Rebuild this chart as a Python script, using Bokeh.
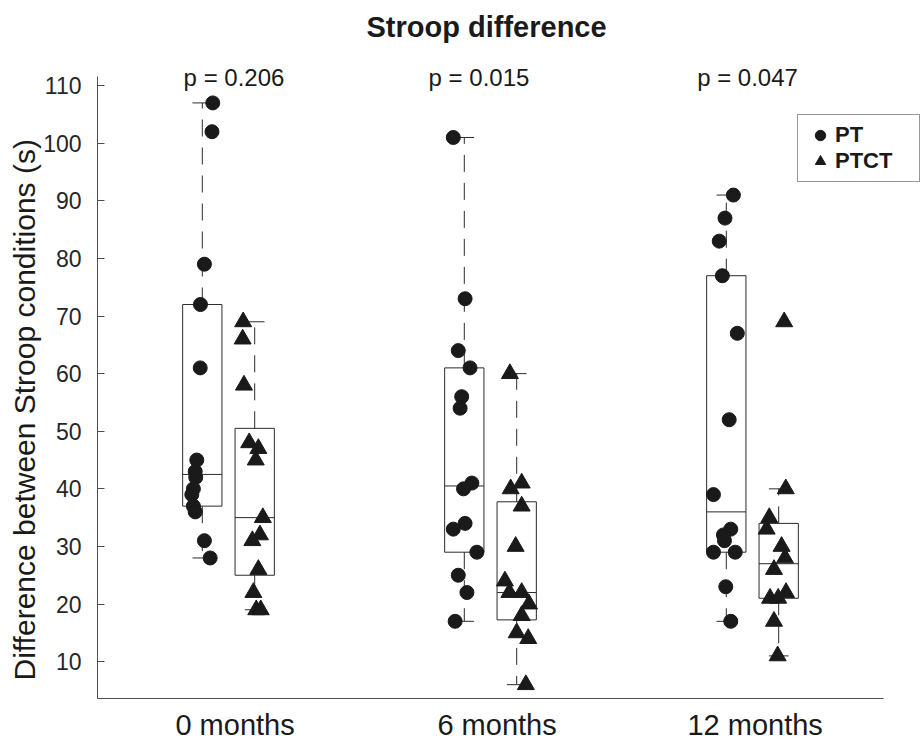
import numpy as np
from bokeh.plotting import figure
from bokeh.models import Range1d, FixedTicker, Legend, LegendItem, ColumnDataSource, Title
from bokeh.core.properties import value
from bokeh.embed import file_html
from bokeh.resources import INLINE

# ---------------- data ----------------
title_text = "Stroop difference"
y_label = "Difference between Stroop conditions (s)"
groups = ["0 months", "6 months", "12 months"]
group_label_pos = [1.125, 2.125, 3.11]
pt_pos = [1, 2, 3]
ptct_pos = [1.2, 2.2, 3.2]
p_texts = ["p = 0.206", "p = 0.015", "p = 0.047"]
p_text_pos = [1.121, 2.056, 3.081]
series_names = ["PT", "PTCT"]

pt_0 = [107, 102, 79, 72, 61, 45, 43, 42, 40, 39, 37, 36, 31, 28]
pt_0_jit = [0.040, 0.037, 0.008, -0.007, -0.008, -0.021, -0.027, -0.025, -0.034, -0.040, -0.034, -0.027, 0.008, 0.030]
ptct_0 = [69, 66, 58, 48, 47, 45, 35, 32, 31, 26, 22, 19, 19]
ptct_0_jit = [-0.044, -0.046, -0.041, -0.021, 0.014, 0.004, 0.031, 0.020, -0.009, 0.014, -0.005, 0.006, 0.023]

pt_6 = [101, 73, 64, 61, 56, 54, 41, 40, 34, 33, 29, 25, 22, 17]
pt_6_jit = [-0.042, 0.003, -0.023, 0.022, -0.010, -0.016, 0.029, -0.003, 0.003, -0.042, 0.048, -0.023, 0.010, -0.035]
ptct_6 = [60, 41, 40, 37, 30, 24, 22, 22, 20, 18, 15, 14, 6]
ptct_6_jit = [-0.026, 0.019, -0.023, 0.019, -0.004, -0.045, -0.028, 0.019, 0.047, 0.019, 0.0, 0.044, 0.035]

pt_12 = [91, 87, 83, 77, 67, 52, 39, 33, 32, 31, 29, 29, 23, 17]
pt_12_jit = [0.027, -0.005, -0.027, -0.015, 0.042, 0.011, -0.049, 0.017, -0.011, -0.007, -0.049, 0.034, -0.002, 0.017]
ptct_12 = [69, 40, 35, 33, 30, 28, 26, 22, 21, 21, 17, 11]
ptct_12_jit = [0.021, 0.027, -0.036, -0.046, 0.011, 0.024, -0.018, 0.028, -0.033, -0.002, -0.018, -0.004]

y_ticks = [10, 20, 30, 40, 50, 60, 70, 80, 90, 100, 110]
x_axis_bounds = (0.6, 3.6)
y_axis_bounds = (3.6, 111.5)
p_label_y = 111.4
title_x = 2.085
title_y = 120.2

pt_sets = [(pt_0, pt_0_jit), (pt_6, pt_6_jit), (pt_12, pt_12_jit)]
ptct_sets = [(ptct_0, ptct_0_jit), (ptct_6, ptct_6_jit), (ptct_12, ptct_12_jit)]

BOX_W = 0.15
CAP_W = 0.075
INK = "#1a1a1a"
LINE = "#2b2b2b"
FONT = "Liberation Sans"


def mquant(v, p):
    s = sorted(v)
    n = len(s)
    pos = n * p + 0.5
    if pos <= 1:
        return s[0]
    if pos >= n:
        return s[-1]
    lo = int(np.floor(pos))
    frac = pos - lo
    return s[lo - 1] + frac * (s[lo] - s[lo - 1])


# ---------------- figure ----------------
W, H = 921, 744
FL, FR, FT, FB = 97, 921, 8, 698          # frame edges in canvas pixels
PX_PER_X = 262.0
PX_PER_Y = 5.76
x_end = x_axis_bounds[0] + (FR - FL) / PX_PER_X
y_end = y_axis_bounds[0] + (FB - FT) / PX_PER_Y

p = figure(width=W, height=H, output_backend="svg", toolbar_location=None,
           x_range=Range1d(x_axis_bounds[0], x_end), y_range=Range1d(y_axis_bounds[0], y_end),
           min_border_left=FL, min_border_right=W - FR, min_border_top=FT, min_border_bottom=H - FB,
           title=None)
p.outline_line_color = None
p.xgrid.visible = False
p.ygrid.visible = False
p.background_fill_color = "white"
p.border_fill_color = "white"

# box statistics
box = dict(left=[], right=[], q1=[], q3=[], med=[])
wh = dict(x=[], y0=[], y1=[])
caps = dict(x0=[], x1=[], y=[])
for sets, positions in ((pt_sets, pt_pos), (ptct_sets, ptct_pos)):
    for c, (vals, _) in zip(positions, sets):
        q1 = mquant(vals, 0.25)
        q3 = mquant(vals, 0.75)
        md = mquant(vals, 0.5)
        iqr = q3 - q1
        hi = max(v for v in vals if v <= q3 + 1.5 * iqr)
        lo = min(v for v in vals if v >= q1 - 1.5 * iqr)
        box["left"].append(c - BOX_W / 2)
        box["right"].append(c + BOX_W / 2)
        box["q1"].append(q1)
        box["q3"].append(q3)
        box["med"].append(md)
        wh["x"] += [c, c]
        wh["y0"] += [q3, q1]
        wh["y1"] += [hi, lo]
        caps["x0"] += [c - CAP_W / 2, c - CAP_W / 2]
        caps["x1"] += [c + CAP_W / 2, c + CAP_W / 2]
        caps["y"] += [hi, lo]

bsrc = ColumnDataSource(box)
p.quad(left="left", right="right", bottom="q1", top="q3", source=bsrc,
       fill_color=None, line_color=LINE, line_width=1)
p.segment(x0="left", x1="right", y0="med", y1="med", source=bsrc,
          line_color=LINE, line_width=1)
p.segment(x0="x", x1="x", y0="y0", y1="y1", source=ColumnDataSource(wh),
          line_color=LINE, line_width=1, line_dash="17 11")
p.segment(x0="x0", x1="x1", y0="y", y1="y", source=ColumnDataSource(caps),
          line_color=LINE, line_width=1)


def pts(sets, positions):
    xs, ys = [], []
    for c, (vals, jit) in zip(positions, sets):
        xs += [c + j for j in jit]
        ys += list(vals)
    return ColumnDataSource(dict(x=xs, y=ys))


r_pt = p.scatter("x", "y", source=pts(pt_sets, pt_pos), marker="circle",
                 size=14, fill_color=INK, line_color=INK)
r_ptct = p.scatter("x", "y", source=pts(ptct_sets, ptct_pos), marker="triangle",
                   size=17, fill_color=INK, line_color=INK)

# axes
p.yaxis.bounds = y_axis_bounds
p.yaxis.ticker = FixedTicker(ticks=y_ticks)
p.yaxis.major_tick_in = 7
p.yaxis.major_tick_out = 0
p.yaxis.minor_tick_line_color = None
p.yaxis.major_label_standoff = 16
p.yaxis.major_label_text_font = FONT
p.yaxis.major_label_text_font_size = "23px"
p.yaxis.major_label_text_color = "#262626"
p.yaxis.axis_line_color = "#4d4d4d"
p.yaxis.major_tick_line_color = "#4d4d4d"

# y-axis title, centred on the drawn axis rather than on the extended frame
p.add_layout(Title(text=y_label, align="left", offset=18, standoff=0,
                   text_font=FONT, text_font_size="30px", text_font_style="normal",
                   text_color="#1a1a1a"), "left")

p.xaxis.bounds = x_axis_bounds
p.xaxis.ticker = FixedTicker(ticks=group_label_pos)
p.xaxis.major_label_overrides = {g: n for g, n in zip(group_label_pos, groups)}
p.xaxis.major_tick_in = 0
p.xaxis.major_tick_out = 0
p.xaxis.minor_tick_line_color = None
p.xaxis.major_label_standoff = 10
p.xaxis.major_label_text_font = FONT
p.xaxis.major_label_text_font_size = "29px"
p.xaxis.major_label_text_color = "#1a1a1a"
p.xaxis.axis_line_color = "#4d4d4d"

# title and p values (text glyphs inside the extended frame)
p.text(x=[title_x], y=[title_y], text=[title_text], text_align="center",
       text_baseline="middle", text_font=value(FONT), text_font_size="29px",
       text_font_style="bold", text_color="#1a1a1a")
p.text(x=p_text_pos, y=[p_label_y] * 3, text=p_texts, text_align="center",
       text_baseline="middle", text_font=value(FONT), text_font_size="24px",
       text_color="#1a1a1a")

legend = Legend(items=[LegendItem(label=series_names[0], renderers=[r_pt]),
                       LegendItem(label=series_names[1], renderers=[r_ptct])],
                location=(700, 516), orientation="vertical",
                label_text_font=FONT, label_text_font_size="22px",
                label_text_font_style="bold", label_text_color="#1a1a1a",
                glyph_width=30, glyph_height=26, label_standoff=0, label_width=77,
                spacing=0, padding=7,
                border_line_color="#333333", border_line_width=1,
                background_fill_color="white", background_fill_alpha=1)
p.add_layout(legend, "center")

open("out.html", "w").write(file_html(p, INLINE))
